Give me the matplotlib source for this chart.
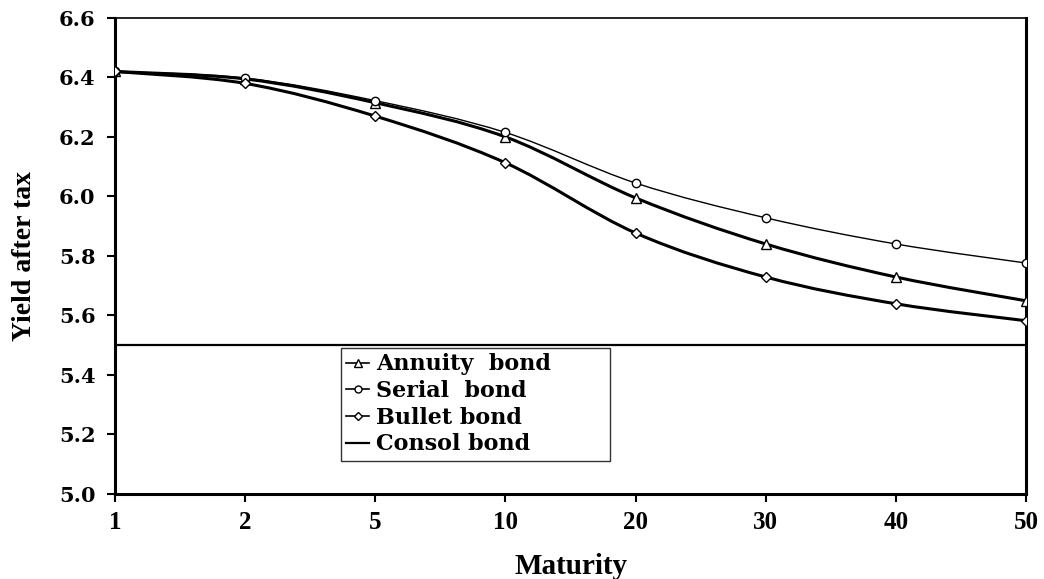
import numpy as np
import matplotlib
matplotlib.use("Agg")
import matplotlib.pyplot as plt
from matplotlib.path import Path
from matplotlib.patches import PathPatch
from matplotlib.lines import Line2D

# data
maturity = ["1", "2", "5", "10", "20", "30", "40", "50"]
annuity = [6.42, 6.395, 6.315, 6.20, 5.995, 5.84, 5.729, 5.649]
serial = [6.42, 6.398, 6.322, 6.215, 6.045, 5.928, 5.840, 5.776]
bullet = [6.42, 6.38, 6.27, 6.113, 5.877, 5.729, 5.639, 5.582]
consol = 5.5

plt.rcParams['font.family'] = ['Liberation Serif', 'DejaVu Serif']
plt.rcParams['font.weight'] = 'bold'
wide = ['DejaVu Serif']


def smooth_path(xs, ys):
    # Catmull-Rom as cubic bezier (like Excel "smoothed line")
    pts = np.column_stack([xs, ys])
    n = len(pts)
    verts = [pts[0]]
    codes = [Path.MOVETO]
    for i in range(n - 1):
        p0 = pts[i - 1] if i > 0 else pts[i]
        p1 = pts[i]
        p2 = pts[i + 1]
        p3 = pts[i + 2] if i + 2 < n else pts[i + 1]
        c1 = p1 + (p2 - p0) / 6.0
        c2 = p2 - (p3 - p1) / 6.0
        verts += [c1, c2, p2]
        codes += [Path.CURVE4] * 3
    return Path(verts, codes)


fig = plt.figure(figsize=(10.44, 5.79), dpi=100)
ax = fig.add_axes([0.110, 0.147, 0.873, 0.822])

x = np.arange(len(maturity))
series = [
    (annuity, '^', 2.2, 7, 'Annuity  bond'),
    (serial, 'o', 1.0, 6, 'Serial  bond'),
    (bullet, 'D', 2.2, 5.5, 'Bullet bond'),
]
handles = []
for vals, mk, lw, ms, lab in series:
    ax.add_patch(PathPatch(smooth_path(x, vals), fill=False, lw=lw,
                           edgecolor='black', zorder=2))
    ax.plot(x, vals, ls='none', marker=mk, ms=ms, mfc='white',
            mec='black', mew=1.0, zorder=3)
    handles.append(Line2D([], [], color='black', lw=1.2, marker=mk, ms=ms - 1,
                          mfc='white', mec='black', mew=1.0, label=lab))
ax.axhline(consol, color='black', lw=1.6, zorder=2)
handles.append(Line2D([], [], color='black', lw=1.6, label='Consol bond'))

ax.set_xlim(0, len(maturity) - 1)
ax.set_ylim(5.0, 6.6)
ax.set_xticks(x)
ax.set_xticklabels(maturity, fontsize=18, fontweight='bold')
yt = np.arange(5.0, 6.61, 0.2)
ax.set_yticks(yt)
ax.set_yticklabels([f"{v:.1f}" for v in yt], family=wide, fontsize=15,
                   fontweight='bold')
ax.tick_params(axis='both', width=1.5, length=6, direction='out')
ax.tick_params(axis='x', pad=6)
ax.tick_params(axis='y', pad=8)
for s in ['left', 'bottom', 'right']:
    ax.spines[s].set_linewidth(2.2)
ax.spines['top'].set_linewidth(1.2)

ax.set_xlabel('Maturity', fontsize=21, fontweight='bold', labelpad=14)
ax.set_ylabel('Yield after tax', fontsize=20, fontweight='bold', labelpad=16)

leg = ax.legend(handles=handles, loc='upper left',
                bbox_to_anchor=(0.248, 0.307, 0.295, 0.0), mode='expand',
                prop={'family': wide, 'size': 16, 'weight': 'bold'},
                frameon=True, fancybox=False, edgecolor='black',
                handlelength=1.0, handletextpad=0.35, labelspacing=0.21,
                borderpad=0.25, borderaxespad=0)
leg.get_frame().set_linewidth(1.0)

fig.savefig('out.png', dpi=100)
